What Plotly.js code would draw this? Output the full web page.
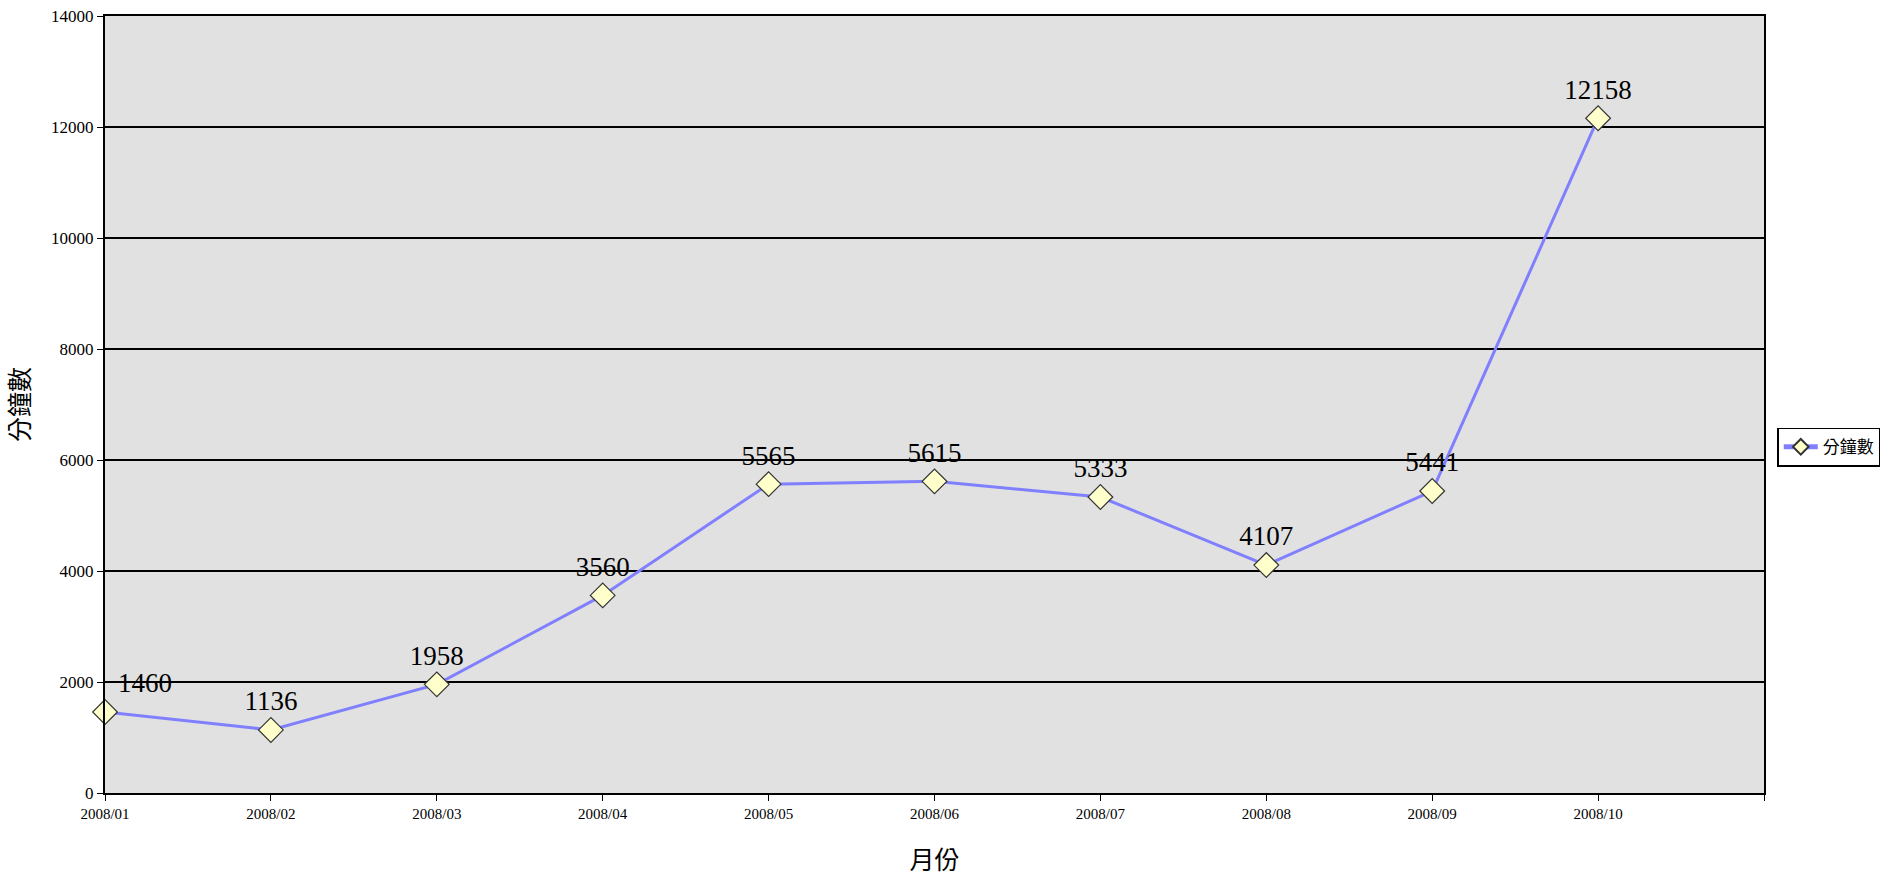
<!DOCTYPE html>
<html>
<head>
<meta charset="utf-8">
<script src="https://cdn.plot.ly/plotly-3.0.1.min.js"></script>
<style>
html,body{margin:0;padding:0;background:#fff;}
#chart{width:1896px;height:893px;}
</style>
</head>
<body>
<div id="chart"></div>
<script>
const categories = ["2008/01","2008/02","2008/03","2008/04","2008/05","2008/06","2008/07","2008/08","2008/09","2008/10"];
const minutes = [1460,1136,1958,3560,5565,5615,5333,4107,5441,12158];
const seriesName = "分鐘數";
const xTitle = "月份";
const yTitle = "分鐘數";

const xPos = categories.map((c,i)=>i);
const tickVals = categories.map((c,i)=>i).concat([categories.length]);
const tickText = categories.concat([""]);
const textPos = minutes.map((v,i)=> i===0 ? "top right" : "top center");

const trace = {
  x: xPos,
  y: minutes,
  type: "scatter",
  mode: "lines+markers+text",
  name: seriesName,
  text: minutes.map(String),
  textposition: textPos,
  textfont: {family: "Liberation Serif, DejaVu Serif, serif", size: 27, color: "#000"},
  line: {color: "#8080ff", width: 3},
  marker: {symbol: "diamond", size: 19, color: "#ffffcc", line: {color: "#333333", width: 1.2}},
  cliponaxis: false
};

const layout = {
  width: 1896, height: 893,
  margin: {l:105, r:132, t:16, b:100, autoexpand: false},
  paper_bgcolor: "#ffffff",
  plot_bgcolor: "#e1e1e1",
  showlegend: true,
  legend: {
    x: 1.008, xanchor: "left", y: 0.445, yanchor: "middle",
    bgcolor: "#ffffff", bordercolor: "#000000", borderwidth: 1.5,
    itemsizing: "constant", itemwidth: 34,
    font: {family: "Noto Sans CJK TC, sans-serif", size: 17, color: "#000"}
  },
  xaxis: {
    range: [0, categories.length],
    tickmode: "array", tickvals: tickVals, ticktext: tickText,
    ticks: "outside", ticklen: 6, tickcolor: "#000", tickwidth: 1,
    showgrid: false, zeroline: false,
    showline: true, linecolor: "#000", linewidth: 2, mirror: true,
    tickfont: {family: "Liberation Serif, serif", size: 15, color: "#000"},
    title: {text: xTitle, font: {family: "Noto Sans CJK TC, sans-serif", size: 25, color: "#000"}, standoff: 30}
  },
  yaxis: {
    range: [0, 14000], dtick: 2000, tick0: 0, tickformat: "d",
    ticks: "outside", ticklen: 6, tickcolor: "#000", tickwidth: 1,
    showgrid: true, gridcolor: "#000", gridwidth: 2,
    zeroline: false,
    showline: true, linecolor: "#000", linewidth: 2, mirror: true,
    tickfont: {family: "Liberation Serif, serif", size: 17, color: "#000"},
    title: {text: yTitle, font: {family: "Noto Sans CJK TC, sans-serif", size: 25, color: "#000"}, standoff: 24}
  }
};

Plotly.newPlot("chart", [trace], layout, {displayModeBar: false, staticPlot: true});
</script>
</body>
</html>
